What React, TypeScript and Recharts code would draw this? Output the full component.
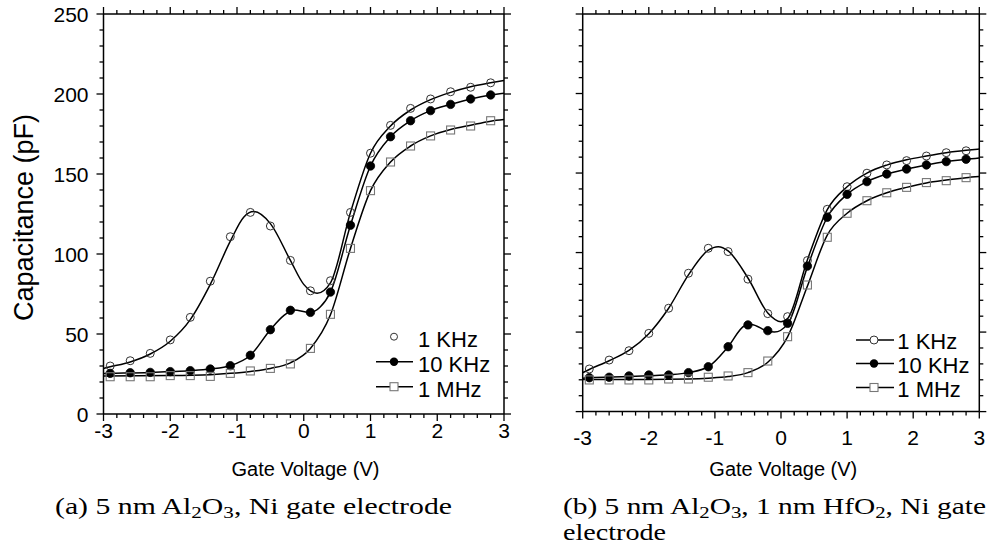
import React from 'react';
import { ComposedChart, Line, Scatter, XAxis, YAxis, Legend } from 'recharts';

// ---------- ticks ----------
const X_TICKS = [-3, -2.8, -2.6, -2.4, -2.2, -2, -1.8, -1.6, -1.4, -1.2, -1, -0.8, -0.6, -0.4, -0.2, 0, 0.2, 0.4, 0.6, 0.8, 1, 1.2, 1.4, 1.6, 1.8, 2, 2.2, 2.4, 2.6, 2.8, 3];
const X_MAJOR = [-3, -2, -1, 0, 1, 2, 3];
const Y_TICKS = [0, 10, 20, 30, 40, 50, 60, 70, 80, 90, 100, 110, 120, 130, 140, 150, 160, 170, 180, 190, 200, 210, 220, 230, 240, 250];
const Y_MAJOR = [0, 50, 100, 150, 200, 250];

// ---------- measured points (gate voltage, V) ----------
const VOLTS = [-2.9, -2.6, -2.3, -2.0, -1.7, -1.4, -1.1, -0.8, -0.5, -0.2, 0.1, 0.4, 0.7, 1.0, 1.3, 1.6, 1.9, 2.2, 2.5, 2.8];

// (a) 5 nm Al2O3
const A_1K = [30, 33.3, 37.9, 46.3, 60.4, 83, 110.8, 126, 117.5, 96, 77, 83.3, 126, 163, 180.4, 191, 196.9, 201.4, 204.2, 207];
const A_10K = [25.4, 25.8, 26, 26.5, 27.1, 28.1, 30.2, 36.7, 52.7, 64.8, 63.5, 76.2, 118, 155, 173.3, 183.3, 189.6, 193.5, 196.9, 199.4];
const A_1M = [23.3, 23.3, 23.3, 24, 24, 23.5, 25.4, 26.9, 28.5, 31.3, 41, 62.3, 103.5, 139.6, 157.5, 167.5, 173.8, 177.5, 180, 183.3];

// (b) 5 nm Al2O3, 1 nm HfO2
const B_1K = [26.8, 32.4, 38.3, 49.2, 65, 87, 102.7, 100.6, 83.3, 61.6, 59.7, 95, 127.2, 141.4, 149.9, 155.1, 157.8, 160.7, 162.8, 164];
const B_10K = [21.3, 21.6, 22.4, 23, 23, 24.5, 28.2, 40.8, 54.5, 50.9, 55.5, 91.5, 122.2, 136.6, 144.6, 149.4, 152.5, 155.1, 157.2, 158.7];
const B_1M = [19.9, 19.9, 19.9, 19.9, 20.5, 20.5, 21.6, 22.4, 24.5, 31.8, 47.1, 79.6, 109.6, 124.7, 132.6, 137.6, 141, 144, 145.2, 147.1];

// ---------- fitted curves ----------
const A_1K_FIT_V = [-3, -2.9, -2.6, -2.3, -2.0, -1.7, -1.4, -1.1, -0.9, -0.75, -0.5, -0.2, 0.0, 0.2, 0.4, 0.7, 1.0, 1.3, 1.6, 1.9, 2.2, 2.5, 2.8, 3];
const A_1K_FIT_C = [28.5, 29.5, 32.5, 37.5, 45.5, 59, 81, 108, 123, 126.5, 119, 96, 81, 75.5, 82, 126, 163, 180, 190, 196.5, 201, 204.5, 207, 208.5];
const A_10K_FIT_V = [-3, -2.9, -2.3, -2.0, -1.7, -1.4, -1.1, -0.8, -0.5, -0.3, -0.15, 0.1, 0.25, 0.4, 0.7, 1.0, 1.3, 1.6, 1.9, 2.2, 2.5, 2.8, 3];
const A_10K_FIT_C = [25.3, 25.4, 26, 26.5, 27.1, 28.1, 30.2, 36.7, 52.7, 61.5, 65, 63.5, 67, 76.2, 118, 155, 173.3, 183.3, 189.6, 193.5, 196.9, 199.4, 200.5];
const A_1M_FIT_V = [-3, -2.0, -1.4, -1.1, -0.8, -0.5, -0.2, 0.1, 0.4, 0.7, 1.0, 1.3, 1.6, 1.9, 2.2, 2.5, 2.8, 3];
const A_1M_FIT_C = [23.8, 24, 24.6, 25.4, 26.6, 28.5, 32, 41, 62, 103.5, 139.6, 157.5, 167.5, 173.8, 177.8, 180.5, 183, 184];

const B_1K_FIT_V = [-3, -2.9, -2.6, -2.3, -2.0, -1.7, -1.4, -1.1, -0.95, -0.8, -0.5, -0.2, 0.0, 0.1, 0.4, 0.7, 1.0, 1.3, 1.6, 1.9, 2.2, 2.5, 2.8, 3];
const B_1K_FIT_C = [24.5, 26.5, 32, 38.5, 49, 65, 86, 101.5, 103.7, 101, 84, 62, 56.5, 58.5, 95.5, 127, 141.4, 150, 155, 158.3, 160.7, 162.8, 164.3, 165.1];
const B_10K_FIT_V = [-3, -2.9, -2.3, -2.0, -1.7, -1.4, -1.1, -0.8, -0.55, -0.45, -0.2, -0.1, 0.1, 0.4, 0.7, 1.0, 1.3, 1.6, 1.9, 2.2, 2.5, 2.8, 3];
const B_10K_FIT_C = [21, 21.3, 22, 22.6, 23.2, 24.5, 28.2, 40.8, 54, 54.8, 50.5, 50, 55, 91, 122.2, 136.6, 144.6, 149.4, 152.5, 155.1, 157.2, 158.7, 159.5];
const B_1M_FIT_V = [-3, -2.0, -1.4, -1.1, -0.8, -0.5, -0.2, 0.1, 0.4, 0.7, 1.0, 1.3, 1.6, 1.9, 2.2, 2.5, 2.8, 3];
const B_1M_FIT_C = [20.2, 20.2, 20.5, 21, 22, 24.5, 31, 47, 79, 111, 124.7, 132.6, 137.6, 141, 143.8, 145.6, 147.1, 147.8];

const LEGEND_LABELS = ['1 KHz', '10 KHz', '1 MHz'];

const zip = (xs: number[], ys: number[]) => xs.map((v, i) => ({ v, c: ys[i] }));

const SANS = '"Liberation Sans", Arial, Helvetica, sans-serif';
const SERIF = '"Liberation Serif", "Times New Roman", serif';

const isMajor = (v: number, majors: number[]) => majors.some((m) => Math.abs(m - v) < 1e-6);

// ---------- tick renderers ----------
const makeBottomTick = (labelGap: number) => (props: any) => {
  const { x, y, payload } = props;
  const major = isMajor(payload.value, X_MAJOR);
  return (
    <g>
      <line x1={x} x2={x} y1={y} y2={y + (major ? 7 : 4)} stroke="#000" strokeWidth={1.3} />
      {major && (
        <text x={x} y={y + labelGap} textAnchor="middle" fontSize={21} fontFamily={SANS} fill="#000">
          {String(payload.value)}
        </text>
      )}
    </g>
  );
};
const TopTick = (props: any) => {
  const { x, y, payload } = props;
  const major = isMajor(payload.value, X_MAJOR);
  return <line x1={x} x2={x} y1={y} y2={y - (major ? 7 : 4)} stroke="#000" strokeWidth={1.3} />;
};
const makeLeftTick = (showLabels: boolean) => (props: any) => {
  const { x, y, payload } = props;
  const major = isMajor(payload.value, Y_MAJOR);
  return (
    <g>
      <line x1={x} x2={x - (major ? 7 : 4)} y1={y} y2={y} stroke="#000" strokeWidth={1.3} />
      {major && showLabels && (
        <text x={x - 15} y={y + 7.5} textAnchor="end" fontSize={21} fontFamily={SANS} fill="#000">
          {String(payload.value)}
        </text>
      )}
    </g>
  );
};
const RightTick = (props: any) => {
  const { x, y, payload } = props;
  const major = isMajor(payload.value, Y_MAJOR);
  return <line x1={x} x2={x + (major ? 7 : 4)} y1={y} y2={y} stroke="#000" strokeWidth={1.3} />;
};

// ---------- marker shapes ----------
const OpenCircle = (p: any) => <circle cx={p.cx} cy={p.cy} r={4} fill="none" stroke="#333" strokeWidth={1} />;
const FilledCircle = (p: any) => <circle cx={p.cx} cy={p.cy} r={4.2} fill="#000" stroke="#000" strokeWidth={0.8} />;
const Square = (p: any) => <rect x={p.cx - 4} y={p.cy - 4} width={8} height={8} fill="none" stroke="#777" strokeWidth={1.1} />;

type Kind = 'open' | 'filled' | 'square';
const marker = (kind: Kind, x: number, y: number, small: boolean) => {
  if (kind === 'open') return <circle cx={x} cy={y} r={small ? 3.5 : 4} fill="#fff" stroke="#333" strokeWidth={1} />;
  if (kind === 'filled') return <circle cx={x} cy={y} r={4.2} fill="#000" />;
  return <rect x={x - 4} y={y - 4} width={8} height={8} fill="#fff" stroke="#777" strokeWidth={1.1} />;
};

const makeLegend = (cfg: { lines: boolean[]; rowY: number[]; mx: number; lx1: number; lx2: number; tx: number; dy: number }) => () => {
  const kinds: Kind[] = ['open', 'filled', 'square'];
  return (
    <svg width={140} height={90} style={{ overflow: 'visible' }}>
      {LEGEND_LABELS.map((lab, i) => (
        <g key={lab}>
          {cfg.lines[i] && <line x1={cfg.lx1} x2={cfg.lx2} y1={cfg.rowY[i]} y2={cfg.rowY[i]} stroke="#000" strokeWidth={1.5} />}
          {marker(kinds[i], cfg.mx, cfg.rowY[i], !cfg.lines[i])}
          <text x={cfg.tx} y={cfg.rowY[i] + cfg.dy} fontSize={22} fontFamily={SANS} fill="#000">
            {lab}
          </text>
        </g>
      ))}
    </svg>
  );
};

const AXIS_STROKE = { stroke: '#000', strokeWidth: 1.5 };

function Panel(props: {
  width: number;
  height: number;
  margin: any;
  m1k: number[];
  m10k: number[];
  m1m: number[];
  f1k: { v: number; c: number }[];
  f10k: { v: number; c: number }[];
  f1m: { v: number; c: number }[];
  yLabels: boolean;
  labelGap: number;
  legend: any;
  legendPos: { left: number; top: number };
}) {
  const d1k = zip(VOLTS, props.m1k);
  const d10k = zip(VOLTS, props.m10k);
  const d1m = zip(VOLTS, props.m1m);
  return (
    <ComposedChart width={props.width} height={props.height} margin={props.margin}>
      <XAxis
        xAxisId={0}
        dataKey="v"
        type="number"
        domain={[-3, 3]}
        allowDataOverflow
        ticks={X_TICKS}
        interval={0}
        height={1}
        tickSize={0}
        tickMargin={0}
        tickLine={false}
        axisLine={AXIS_STROKE}
        tick={makeBottomTick(props.labelGap)}
      />
      <XAxis
        xAxisId="top"
        orientation="top"
        dataKey="v"
        type="number"
        domain={[-3, 3]}
        allowDataOverflow
        ticks={X_TICKS}
        interval={0}
        height={1}
        tickSize={0}
        tickMargin={0}
        tickLine={false}
        axisLine={AXIS_STROKE}
        tick={TopTick}
      />
      <YAxis
        yAxisId={0}
        type="number"
        domain={[0, 250]}
        allowDataOverflow
        ticks={Y_TICKS}
        interval={0}
        width={1}
        tickSize={0}
        tickMargin={0}
        tickLine={false}
        axisLine={AXIS_STROKE}
        tick={makeLeftTick(props.yLabels)}
      />
      <YAxis
        yAxisId="right"
        orientation="right"
        type="number"
        domain={[0, 250]}
        allowDataOverflow
        ticks={Y_TICKS}
        interval={0}
        width={1}
        tickSize={0}
        tickMargin={0}
        tickLine={false}
        axisLine={AXIS_STROKE}
        tick={RightTick}
      />
      <Line data={props.f1k} dataKey="c" type="monotone" stroke="#000" strokeWidth={1.5} dot={false} activeDot={false} isAnimationActive={false} />
      <Line data={props.f10k} dataKey="c" type="monotone" stroke="#000" strokeWidth={1.5} dot={false} activeDot={false} isAnimationActive={false} />
      <Line data={props.f1m} dataKey="c" type="monotone" stroke="#000" strokeWidth={1.5} dot={false} activeDot={false} isAnimationActive={false} />
      <Scatter data={d1k} dataKey="c" shape={OpenCircle} isAnimationActive={false} />
      <Scatter data={d10k} dataKey="c" shape={FilledCircle} isAnimationActive={false} />
      <Scatter data={d1m} dataKey="c" shape={Square} isAnimationActive={false} />
      <Legend
        layout="vertical"
        align="center"
        verticalAlign="middle"
        content={props.legend}
        wrapperStyle={{ left: props.legendPos.left, top: props.legendPos.top, width: 140, height: 90 }}
      />
    </ComposedChart>
  );
}

export default function App() {
  return (
    <div style={{ position: 'absolute', left: 0, top: 0, width: 989, height: 552, background: '#fff', overflow: 'hidden' }}>
      <div style={{ position: 'absolute', left: 0, top: 0 }}>
        <Panel
          width={520}
          height={480}
          margin={{ top: 13, right: 15, bottom: 65, left: 102.5 }}
          m1k={A_1K}
          m10k={A_10K}
          m1m={A_1M}
          f1k={zip(A_1K_FIT_V, A_1K_FIT_C)}
          f10k={zip(A_10K_FIT_V, A_10K_FIT_C)}
          f1m={zip(A_1M_FIT_V, A_1M_FIT_C)}
          yLabels={true}
          labelGap={24}
          legend={makeLegend({ lines: [false, true, true], rowY: [14.7, 39.7, 64.7], mx: 24, lx1: 6, lx2: 43, tx: 48, dy: 10 })}
          legendPos={{ left: 370, top: 322 }}
        />
      </div>
      <div style={{ position: 'absolute', left: 530, top: 0 }}>
        <Panel
          width={459}
          height={480}
          margin={{ top: 13, right: 8.7, bottom: 67.4, left: 51.7 }}
          m1k={B_1K}
          m10k={B_10K}
          m1m={B_1M}
          f1k={zip(B_1K_FIT_V, B_1K_FIT_C)}
          f10k={zip(B_10K_FIT_V, B_10K_FIT_C)}
          f1m={zip(B_1M_FIT_V, B_1M_FIT_C)}
          yLabels={false}
          labelGap={33}
          legend={makeLegend({ lines: [true, true, true], rowY: [14, 37.5, 61.5], mx: 24, lx1: 6, lx2: 44, tx: 47.3, dy: 9.3 })}
          legendPos={{ left: 320, top: 326 }}
        />
      </div>
      <svg width={989} height={552} style={{ position: 'absolute', left: 0, top: 0, pointerEvents: 'none' }}>
        <text x={33} y={217.5} transform="rotate(-90 33 217.5)" textAnchor="middle" fontSize={27} fontFamily={SANS} fill="#000">
          Capacitance (pF)
        </text>
        <text x={305.5} y={476} textAnchor="middle" fontSize={20} fontFamily={SANS} fill="#000">
          Gate Voltage (V)
        </text>
        <text x={783.3} y={476} textAnchor="middle" fontSize={20} fontFamily={SANS} fill="#000">
          Gate Voltage (V)
        </text>
        <text x={55} y={514} fontSize={24} fontFamily={SERIF} fill="#000" textLength={397} lengthAdjust="spacingAndGlyphs">
          (a) 5 nm Al<tspan baselineShift="-25%" fontSize={17}>2</tspan>O<tspan baselineShift="-25%" fontSize={17}>3</tspan>, Ni gate electrode
        </text>
        <text x={563} y={514} fontSize={24} fontFamily={SERIF} fill="#000" textLength={423} lengthAdjust="spacingAndGlyphs">
          (b) 5 nm Al<tspan baselineShift="-25%" fontSize={17}>2</tspan>O<tspan baselineShift="-25%" fontSize={17}>3</tspan>, 1 nm HfO<tspan baselineShift="-25%" fontSize={17}>2</tspan>, Ni gate
        </text>
        <text x={563} y={540} fontSize={24} fontFamily={SERIF} fill="#000" textLength={103} lengthAdjust="spacingAndGlyphs">
          electrode
        </text>
      </svg>
    </div>
  );
}
